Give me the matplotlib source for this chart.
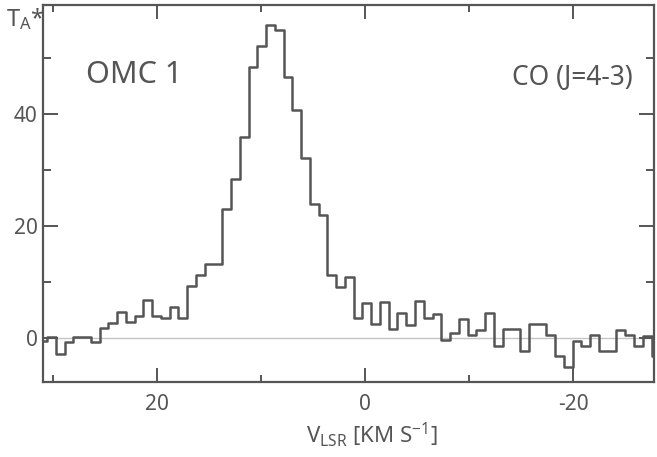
import numpy as np
import matplotlib
matplotlib.use("Agg")
import matplotlib.pyplot as plt

# CO (J=4-3) spectrum towards OMC 1, antenna temperature per channel
# channel grid of the spectrometer (km/s): first edge and channel width
v_first_edge = 31.45
chan_width = 0.843

t_antenna = [-0.6, 0.1, -2.9, -0.8, 0.1, 0.1, -0.8, 1.7, 2.7, 4.6,
             2.9, 3.8, 6.8, 3.8, 3.5, 5.4, 3.5, 9.3, 11.2, 13.2,
             13.2, 22.9, 28.4, 35.9, 48.3, 52.0, 55.9, 55.0, 46.5, 40.7,
             32.1, 23.8, 22.0, 11.2, 9.0, 10.9, 3.5, 6.2, 2.4, 6.4,
             1.6, 4.4, 2.3, 6.5, 3.5, 4.3, -0.4, 0.8, 3.3, 0.5,
             1.4, 4.5, -1.5, 1.5, 1.5, -2.3, 2.5, 2.5, 0.5, -3.3,
             -5.2, -0.6, -1.5, 0.5, -2.3, -2.3, 1.3, 0.5, -1.4, 0.4,
             -3.3]

x_major = [20, 0, -20]
x_minor = [30, 10, -10]
y_major = [0, 20, 40]
y_minor = [10, 30, 50]

source_name = "OMC 1"
line_name = "CO (J=4-3)"

GRAY = "#555555"

plt.rcParams['font.family'] = ['Noto Sans', 'DejaVu Sans']
plt.rcParams['font.stretch'] = 'condensed'
plt.rcParams['font.weight'] = 'light'
plt.rcParams['axes.unicode_minus'] = False
plt.rcParams['mathtext.default'] = 'regular'

W, H = 657, 457
fig = plt.figure(figsize=(W / 100, H / 100), dpi=100)
ax = fig.add_axes([43 / W, 1 - 382 / H, (654 - 43) / W, (382 - 5) / H])

n = len(t_antenna)
edges = v_first_edge - chan_width * np.arange(n + 1)
ax.step(edges, np.append(t_antenna, t_antenna[-1]), where='post',
        color=GRAY, lw=1.8)

# baseline
ax.axhline(0, color='#c4c4c4', lw=1.0, zorder=0)

ax.set_xlim(31.0, -27.8)
ax.set_ylim(-7.9, 59.4)

ax.set_xticks(x_major)
ax.set_xticks(x_minor, minor=True)
ax.set_yticks(y_major)
ax.set_yticks(y_minor, minor=True)

for s in ax.spines.values():
    s.set_color(GRAY)
    s.set_linewidth(1.6)

ax.tick_params(which='both', direction='in', top=True, right=True,
               color=GRAY, labelcolor=GRAY, width=1.4)
ax.tick_params(axis='x', which='major', length=10, pad=9, labelsize=15)
ax.tick_params(axis='x', which='minor', length=5)
ax.tick_params(axis='y', which='major', length=11, pad=4, labelsize=15)
ax.tick_params(axis='y', which='minor', length=6)

ax.text(90 / 611 - 47 / 611, 1 - (83 - 5) / 377, source_name, transform=ax.transAxes,
        fontsize=22, color=GRAY, ha='left', va='baseline')
ax.text((633 - 43) / 611, 1 - (85 - 5) / 377, line_name, transform=ax.transAxes,
        fontsize=19, color=GRAY, ha='right', va='baseline')

fig.text(6 / W, 1 - 26 / H, r"$T_A$*", fontsize=17, color=GRAY,
         ha='left', va='baseline')
fig.text(372 / W, 1 - 443 / H, r"$V_{LSR}$ [KM S$^{-1}$]", fontsize=16,
         color=GRAY, ha='center', va='baseline')

plt.savefig("out.png", dpi=100)
plt.close()
